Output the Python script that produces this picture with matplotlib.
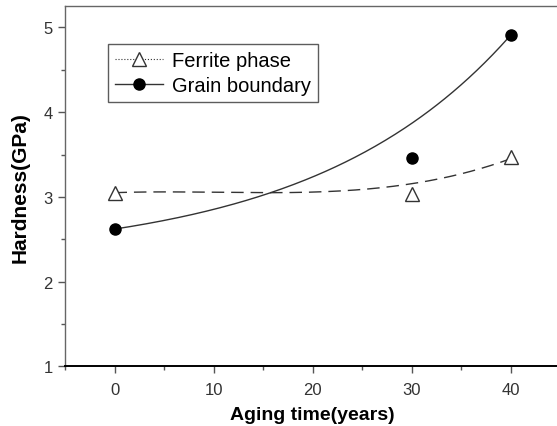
import matplotlib
matplotlib.use('Agg')
import matplotlib.pyplot as plt
import numpy as np
from matplotlib.lines import Line2D
from matplotlib.ticker import MultipleLocator

plt.rcParams['font.family'] = ['Liberation Sans', 'DejaVu Sans']

# measured hardness values
aging_years = [0, 30, 40]
ferrite_hardness = [3.05, 3.03, 3.47]
grain_hardness = [2.62, 3.46, 4.91]

# fitted trend curves
grain_fit = dict(y0=2.262, amp=0.358, tau=20.0)          # y0 + amp*exp(x/tau)
ferrite_fit = [1.661e-5, -0.000513, 0.00395, 3.05]      # cubic coefficients

fig = plt.figure(figsize=(5.57, 4.27), dpi=100)
ax = fig.add_axes([0.1167, 0.1398, 0.8887, 0.8431])

x_fit = np.linspace(min(aging_years), max(aging_years), 200)
grain_curve = grain_fit['y0'] + grain_fit['amp'] * np.exp(x_fit / grain_fit['tau'])
ferrite_curve = np.polyval(ferrite_fit, x_fit)

ax.plot(x_fit, ferrite_curve, color='#333333', lw=1.0, dashes=(9, 5))
ax.plot(x_fit, grain_curve, color='#333333', lw=1.0)

ax.plot(aging_years, ferrite_hardness, ls='none', marker='^', ms=10,
        mfc='white', mec='#333333', mew=1.0)
ax.plot(aging_years, grain_hardness, ls='none', marker='o', ms=8,
        mfc='black', mec='black')

ax.set_xlim(-5, 45)
ax.set_ylim(1, 5.25)
ax.xaxis.set_major_locator(MultipleLocator(10))
ax.xaxis.set_minor_locator(MultipleLocator(5))
ax.yaxis.set_major_locator(MultipleLocator(1))
ax.yaxis.set_minor_locator(MultipleLocator(0.5))

ax.tick_params(which='major', direction='out', length=5, width=1, color='#555555',
               labelsize=12, labelcolor='#333333')
ax.tick_params(axis='x', which='major', pad=6)
ax.tick_params(axis='y', which='major', pad=4)
ax.tick_params(which='minor', direction='out', length=3, width=1, color='#555555')

for side in ['left', 'top', 'right']:
    ax.spines[side].set_color('#666666')
    ax.spines[side].set_linewidth(1.0)
ax.spines['bottom'].set_color('black')
ax.spines['bottom'].set_linewidth(1.4)

ax.set_xlabel('Aging time(years)', fontsize=14, fontweight='bold', labelpad=7)
ax.set_ylabel('Hardness(GPa)', fontsize=15, fontweight='bold', labelpad=10)

handles = [
    Line2D([], [], color='#333333', lw=0.8, ls=':', marker='^', ms=10,
           mfc='white', mec='#333333'),
    Line2D([], [], color='#333333', lw=1.0, ls='-', marker='o', ms=8,
           mfc='black', mec='black'),
]
leg = ax.legend(handles, ['Ferrite phase', 'Grain boundary'], loc='upper left',
                bbox_to_anchor=(0.087, 0.895), borderaxespad=0, fontsize=14.5,
                frameon=True, fancybox=False, edgecolor='#333333',
                handlelength=2.4, handletextpad=0.4, borderpad=0.35,
                labelspacing=0.3)
leg.get_frame().set_linewidth(1.0)

fig.savefig('out.png', dpi=100)
